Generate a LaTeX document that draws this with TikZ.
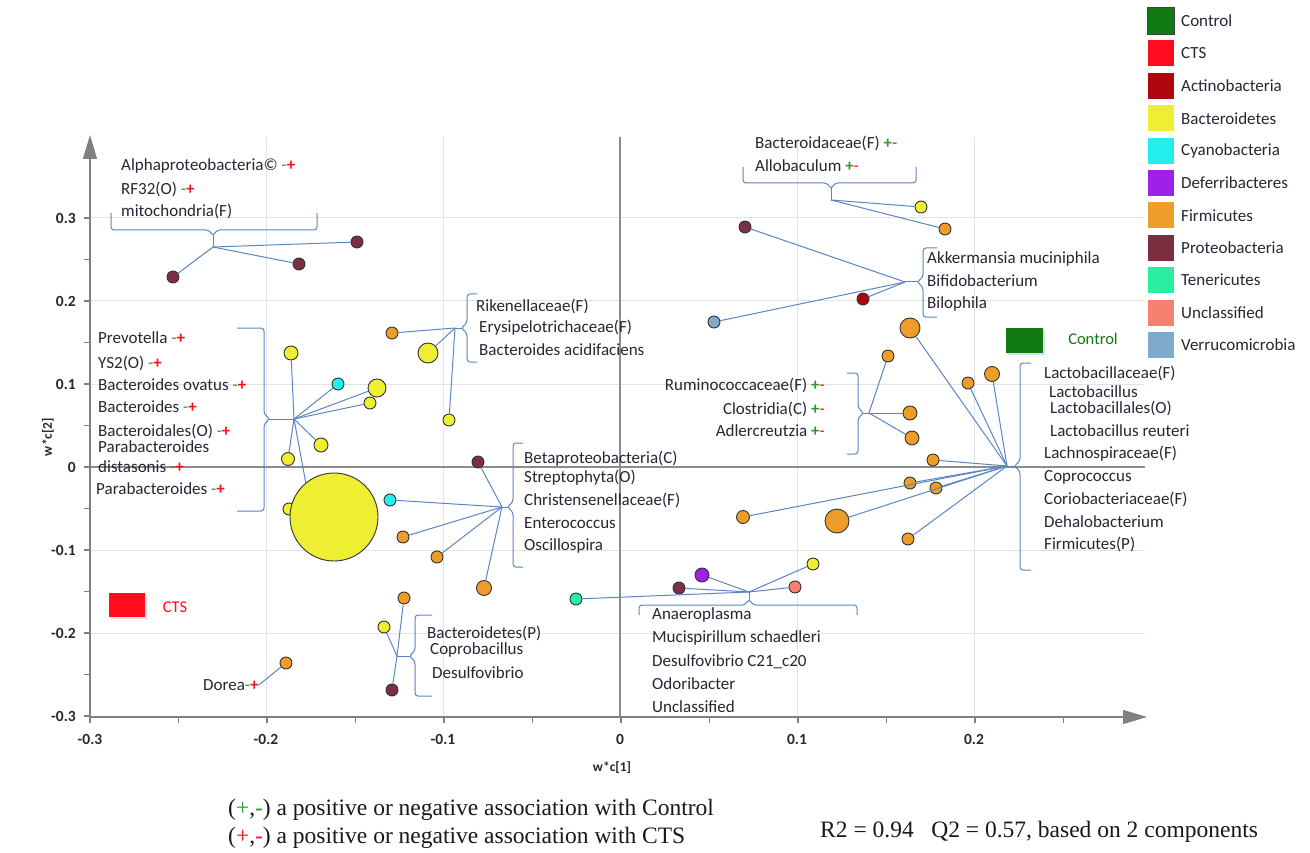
\documentclass[tikz,border=0pt]{standalone}
\usepackage{fontspec}
\setmainfont{Carlito}
\newfontfamily\tnr{Liberation Serif}
\usetikzlibrary{arrows.meta,shadows}
\definecolor{ctl}{HTML}{127A12}
\definecolor{cts}{HTML}{FF0D1F}
\definecolor{actino}{HTML}{B0060F}
\definecolor{bacter}{HTML}{EEEE33}
\definecolor{cyano}{HTML}{22EEEE}
\definecolor{deferri}{HTML}{A020E8}
\definecolor{firm}{HTML}{EE9E28}
\definecolor{proteo}{HTML}{7A3040}
\definecolor{teneri}{HTML}{28EEA0}
\definecolor{unclass}{HTML}{F88070}
\definecolor{verru}{HTML}{80AACC}
\definecolor{link}{HTML}{5B86C2}
\definecolor{txt}{HTML}{262636}
\definecolor{sgngreen}{HTML}{2E9A2E}
\newcommand\nplus{{\color{sgngreen}-}{\color{cts}\textbf{+}}}
\newcommand\pminus{{\color{sgngreen}\textbf{+}}{\color{cts}-}}
\tikzset{
  bub/.style={circle, draw=black!80, line width=0.9pt, inner sep=0pt, minimum size=#1},
  lnk/.style={draw=link, line width=1pt},
  brk/.style={draw=link, line width=1pt, rounded corners=3pt},
  lab/.style={font=\fontsize{17}{20}\selectfont, text=txt, inner sep=0pt, anchor=west},
  labr/.style={lab, anchor=east},
  tick/.style={font=\bfseries\fontsize{15.5}{19}\selectfont, text=txt, inner sep=0pt},
  gridl/.style={draw=black!11, line width=1pt},
  zerol/.style={draw=black!45, line width=1.4pt},
  axisl/.style={draw=black!50, line width=1.2pt},
  lgsq/.style={rectangle, inner sep=0pt, minimum width=26pt, minimum height=26pt},
  note/.style={font=\tnr\fontsize{23.5}{28}\selectfont, text=black!90, inner sep=0pt, anchor=west},
  grp/.style={rectangle, inner sep=0pt, minimum width=37pt, minimum height=25pt,
     drop shadow={opacity=0.25, shadow xshift=2pt, shadow yshift=-2pt}}
}
\begin{document}
\begin{tikzpicture}[x=1pt,y=-1pt]
\useasboundingbox (0,0) rectangle (1310,853);
\fill[white] (0,0) rectangle (1310,853);
% grid
\foreach \gx in {266,443,797,974} \draw[gridl] (\gx,137) -- (\gx,717);
\foreach \gy in {218,301,384,550,633} \draw[gridl] (90,\gy) -- (1145,\gy);
\draw[zerol] (620,137) -- (620,717);
\draw[zerol] (90,467) -- (1145,467);
% axes
\draw[axisl, -{Triangle[length=24pt,width=14pt]}, black!50] (90,717) -- (90,135);
\draw[axisl, -{Triangle[length=24pt,width=14pt]}, black!50] (90,717) -- (1147,717);
\foreach \i in {0,...,12} \draw[axisl] (84,{467+41.5*(\i-6)}) -- (90,{467+41.5*(\i-6)});
\foreach \i in {0,...,11} \draw[axisl] ({90+88.5*\i},717) -- ({90+88.5*\i},723);
\foreach \v/\y in {0.3/218,0.2/301,0.1/384,0/467,-0.1/550,-0.2/633,-0.3/716}
  \node[tick, anchor=east] (yl\y) at (76,\y) {\v};
\foreach \v/\x in {-0.3/90,-0.2/266,-0.1/443,0/620,0.1/797,0.2/974}
  \node[tick] (xl\x) at (\x,739) {\v};
\node[font=\bfseries\fontsize{13.5}{15}\selectfont, text=txt, rotate=90] (ytitle) at (48,437) {w*c[2]};
\node[font=\bfseries\fontsize{13.5}{15}\selectfont, text=txt] (xtitle) at (612,768) {w*c[1]};

% bubbles
\node[bub=12, fill=proteo] (p1) at (357,242) {};
\node[bub=12, fill=proteo] (p2) at (299,264) {};
\node[bub=12, fill=proteo] (p3) at (173,277) {};
\node[bub=14, fill=bacter] (p4) at (291,353) {};
\node[bub=12, fill=cyano] (p5) at (338,384) {};
\node[bub=18, fill=bacter] (p6) at (377,388) {};
\node[bub=12, fill=bacter] (p7) at (370,403) {};
\node[bub=14, fill=bacter] (p8) at (321,445) {};
\node[bub=13, fill=bacter] (p9) at (288,459) {};
\node[bub=12, fill=bacter] (p10) at (289,509) {};
\coordinate (bigtop) at (306,484);
\coordinate (h2) at (294,419);
\draw[lnk] (h2) -- (bigtop);
\node[bub=88, fill=bacter] (p11) at (334,517) {};
\node[bub=12, fill=firm] (p12) at (392,333) {};
\node[bub=20, fill=bacter] (p13) at (428,353) {};
\node[bub=12, fill=bacter] (p14) at (449,420) {};
\node[bub=12, fill=proteo] (p15) at (478,462) {};
\node[bub=12, fill=cyano] (p16) at (390,500) {};
\node[bub=12, fill=firm] (p17) at (403,537) {};
\node[bub=12, fill=firm] (p18) at (437,557) {};
\node[bub=15, fill=firm] (p19) at (484,588) {};
\node[bub=12, fill=bacter] (p20) at (921,207) {};
\node[bub=12, fill=firm] (p21) at (945,229) {};
\node[bub=12, fill=proteo] (p22) at (745,227) {};
\node[bub=12, fill=actino] (p23) at (863,299) {};
\node[bub=12, fill=verru] (p24) at (714,322) {};
\node[bub=12, fill=firm] (p25) at (888,356) {};
\node[bub=14, fill=firm] (p26) at (910,413) {};
\node[bub=14, fill=firm] (p27) at (912,438) {};
\node[bub=20, fill=firm] (p28) at (910,328) {};
\node[bub=12, fill=firm] (p29) at (968,383) {};
\node[bub=15, fill=firm] (p30) at (992,374) {};
\node[bub=12, fill=firm] (p31) at (933,460) {};
\node[bub=12, fill=firm] (p32) at (910,483) {};
\node[bub=12, fill=firm] (p33) at (936,488) {};
\node[bub=13, fill=firm] (p34) at (743,517) {};
\node[bub=24, fill=firm] (p35) at (837,521) {};
\node[bub=12, fill=firm] (p36) at (908,539) {};
\node[bub=12, fill=firm] (p37) at (404,598) {};
\node[bub=12, fill=bacter] (p38) at (384,627) {};
\node[bub=12, fill=proteo] (p39) at (392,690) {};
\node[bub=12, fill=teneri] (p40) at (576,599) {};
\node[bub=12, fill=proteo] (p41) at (679,588) {};
\node[bub=14, fill=deferri] (p42) at (702,575) {};
\node[bub=12, fill=unclass] (p43) at (795,587) {};
\node[bub=12, fill=bacter] (p44) at (813,564) {};
\node[bub=12, fill=firm] (p45) at (286,663) {};

% hubs
\coordinate (h1) at (213,247);
\coordinate (h3) at (455,328);
\coordinate (h4) at (502,507);
\coordinate (h5) at (831,200);
\coordinate (h6) at (905,282);
\coordinate (h7) at (869,413);
\coordinate (h8) at (1007,466);
\coordinate (h9) at (397,656);
\coordinate (h10) at (749,592);

% connectors
\foreach \p in {p1,p2,p3} \draw[lnk] (h1) -- (\p);
\foreach \p in {p4,p5,p6,p7,p8,p9} \draw[lnk] (h2) -- (\p);
\foreach \p in {p12,p13,p14} \draw[lnk] (h3) -- (\p);
\foreach \p in {p15,p16,p17,p18,p19} \draw[lnk] (h4) -- (\p);
\foreach \p in {p20,p21} \draw[lnk] (h5) -- (\p);
\foreach \p in {p22,p23,p24} \draw[lnk] (h6) -- (\p);
\foreach \p in {p25,p26,p27} \draw[lnk] (h7) -- (\p);
\foreach \p in {p28,p29,p30,p31,p32,p33,p34,p35,p36} \draw[lnk] (h8) -- (\p);
\foreach \p in {p37,p38,p39} \draw[lnk] (h9) -- (\p);
\foreach \p in {p40,p41,p42,p43,p44} \draw[lnk] (h10) -- (\p);

% braces
\draw[brk] (111,213) -- (111,230) -- (209,230) -- (213,236) -- (217,230) -- (317,230) -- (317,213);
\draw[lnk] (213,235) -- (h1);
\draw[brk] (237,328) -- (264,328) -- (264,414) -- (270,419) -- (264,424) -- (264,511) -- (237,511);
\draw[lnk] (269,419) -- (h2);
\draw[brk] (477,294) -- (467,294) -- (467,323) -- (461,328) -- (467,333) -- (467,362) -- (477,362);
\draw[lnk] (462,328) -- (h3);
\draw[brk] (523,443) -- (513,443) -- (513,502) -- (507,507) -- (513,512) -- (513,567) -- (523,567);
\draw[lnk] (508,507) -- (h4);
\draw[brk] (743,167) -- (743,183) -- (827,183) -- (831,189) -- (835,183) -- (916,183) -- (916,167);
\draw[lnk] (831,188) -- (h5);
\draw[brk] (937,248) -- (923,248) -- (923,277) -- (917,282) -- (923,287) -- (923,317) -- (937,317);
\draw[lnk] (918,282) -- (h6);
\draw[brk] (847,373) -- (858,373) -- (858,408) -- (864,413) -- (858,418) -- (858,454) -- (847,454);
\draw[lnk] (863,413) -- (h7);
\draw[brk] (1031,363) -- (1020,363) -- (1020,461) -- (1014,466) -- (1020,471) -- (1020,570) -- (1031,570);
\draw[lnk] (1015,466) -- (h8);
\draw[brk] (432,615) -- (415,615) -- (415,651) -- (409,656) -- (415,661) -- (415,696) -- (432,696);
\draw[lnk] (410,656) -- (h9);
\draw[brk] (639,615) -- (639,605) -- (745,605) -- (749,599) -- (753,605) -- (857,605) -- (857,615);
\draw[lnk] (749,600) -- (h10);

% labels
\node[lab] (t1) at (121,166) {Alphaproteobacteria© \nplus};
\node[lab] (t2) at (121,189) {RF32(O) \nplus};
\node[lab] (t3) at (121,211) {mitochondria(F)};
\node[lab] (t4) at (98,338) {Prevotella \nplus};
\node[lab] (t5) at (98,363) {YS2(O) \nplus};
\node[lab] (t6) at (98,385) {Bacteroides ovatus \nplus};
\node[lab] (t7) at (98,407) {Bacteroides \nplus};
\node[lab] (t8) at (98,431) {Bacteroidales(O) \nplus};
\node[lab] (t9) at (98,447) {Parabacteroides};
\node[lab] (t10) at (98,467) {distasonis \nplus};
\node[lab] (t11) at (96,489) {Parabacteroides \nplus};
\node[lab] (t12) at (476,306) {Rikenellaceae(F)};
\node[lab] (t13) at (479,328) {Erysipelotrichaceae(F)};
\node[lab] (t14) at (479,350) {Bacteroides acidifaciens};
\node[lab] (t15) at (524,459) {Betaproteobacteria(C)};
\node[lab] (t16) at (524,478) {Streptophyta(O)};
\node[lab] (t17) at (524,500) {Christensenellaceae(F)};
\node[lab] (t18) at (524,523) {Enterococcus};
\node[lab] (t19) at (524,546) {Oscillospira};
\node[lab] (t20) at (755,143) {Bacteroidaceae(F) \pminus};
\node[lab] (t21) at (755,166) {Allobaculum \pminus};
\node[lab] (t22) at (927,259) {Akkermansia muciniphila};
\node[lab] (t23) at (927,281) {Bifidobacterium};
\node[lab] (t24) at (927,304) {Bilophila};
\node[labr] (t25) at (825,385) {Ruminococcaceae(F) \pminus};
\node[labr] (t26) at (825,409) {Clostridia(C) \pminus};
\node[labr] (t27) at (825,431) {Adlercreutzia \pminus};
\node[lab] (t28) at (1044,373) {Lactobacillaceae(F)};
\node[lab] (t29) at (1049,392) {Lactobacillus};
\node[lab] (t30) at (1050,408) {Lactobacillales(O)};
\node[lab] (t31) at (1050,431) {Lactobacillus reuteri};
\node[lab] (t32) at (1044,454) {Lachnospiraceae(F)};
\node[lab] (t33) at (1044,477) {Coprococcus};
\node[lab] (t34) at (1044,499) {Coriobacteriaceae(F)};
\node[lab] (t35) at (1044,522) {Dehalobacterium};
\node[lab] (t36) at (1044,544) {Firmicutes(P)};
\node[lab] (t37) at (427,633) {Bacteroidetes(P)};
\node[lab] (t38) at (430,650) {Coprobacillus};
\node[lab] (t39) at (432,673) {Desulfovibrio};
\node[lab] (t40) at (652,615) {Anaeroplasma};
\node[lab] (t41) at (652,638) {Mucispirillum schaedleri};
\node[lab] (t42) at (652,662) {Desulfovibrio C21\_c20};
\node[lab] (t43) at (652,684) {Odoribacter};
\node[lab] (t44) at (652,707) {Unclassified};
\node[lab] (dorea) at (203,685) {Dorea\nplus};
\draw[lnk] (dorea.east) -- (p45);

% group markers
\node[grp, fill=ctl] (ctlbox) at (1024.5,340.5) {};
\node[font=\fontsize{16.5}{18}\selectfont, text=ctl] (ctltxt) at (1093,339) {Control};
\node[grp, fill=cts, minimum width=36pt, minimum height=24pt] (ctsbox) at (127,605) {};
\node[font=\fontsize{16.5}{18}\selectfont, text=cts] (ctstxt) at (175,607) {CTS};

% legend
\foreach \i/\c/\t in {0/ctl/Control,1/cts/CTS,2/actino/Actinobacteria,3/bacter/Bacteroidetes,
  4/cyano/Cyanobacteria,5/deferri/Deferribacteres,6/firm/Firmicutes,7/proteo/Proteobacteria,
  8/teneri/Tenericutes,9/unclass/Unclassified,10/verru/Verrucomicrobia}{
  \node[lgsq, fill=\c] (lg\i) at (1161,{21+32.4*\i}) {};
  \node[lab] (lgt\i) at (1181,{21+32.4*\i}) {\t};
}
\draw[black!75, line width=1pt] (lg0.south west) rectangle (lg0.north east);

% notes
\node[note] (n1) at (228,810) {(\textcolor{sgngreen}{+},\textcolor{sgngreen}{-}) a positive or negative association with Control};
\node[note] (n2) at (228,838) {(\textcolor{cts}{+},\textcolor{cts}{-}) a positive or negative association with CTS};
\node[note] (n3) at (820,832) {R2 = 0.94\ \ \ Q2 = 0.57, based on 2 components};
\end{tikzpicture}
\end{document}
